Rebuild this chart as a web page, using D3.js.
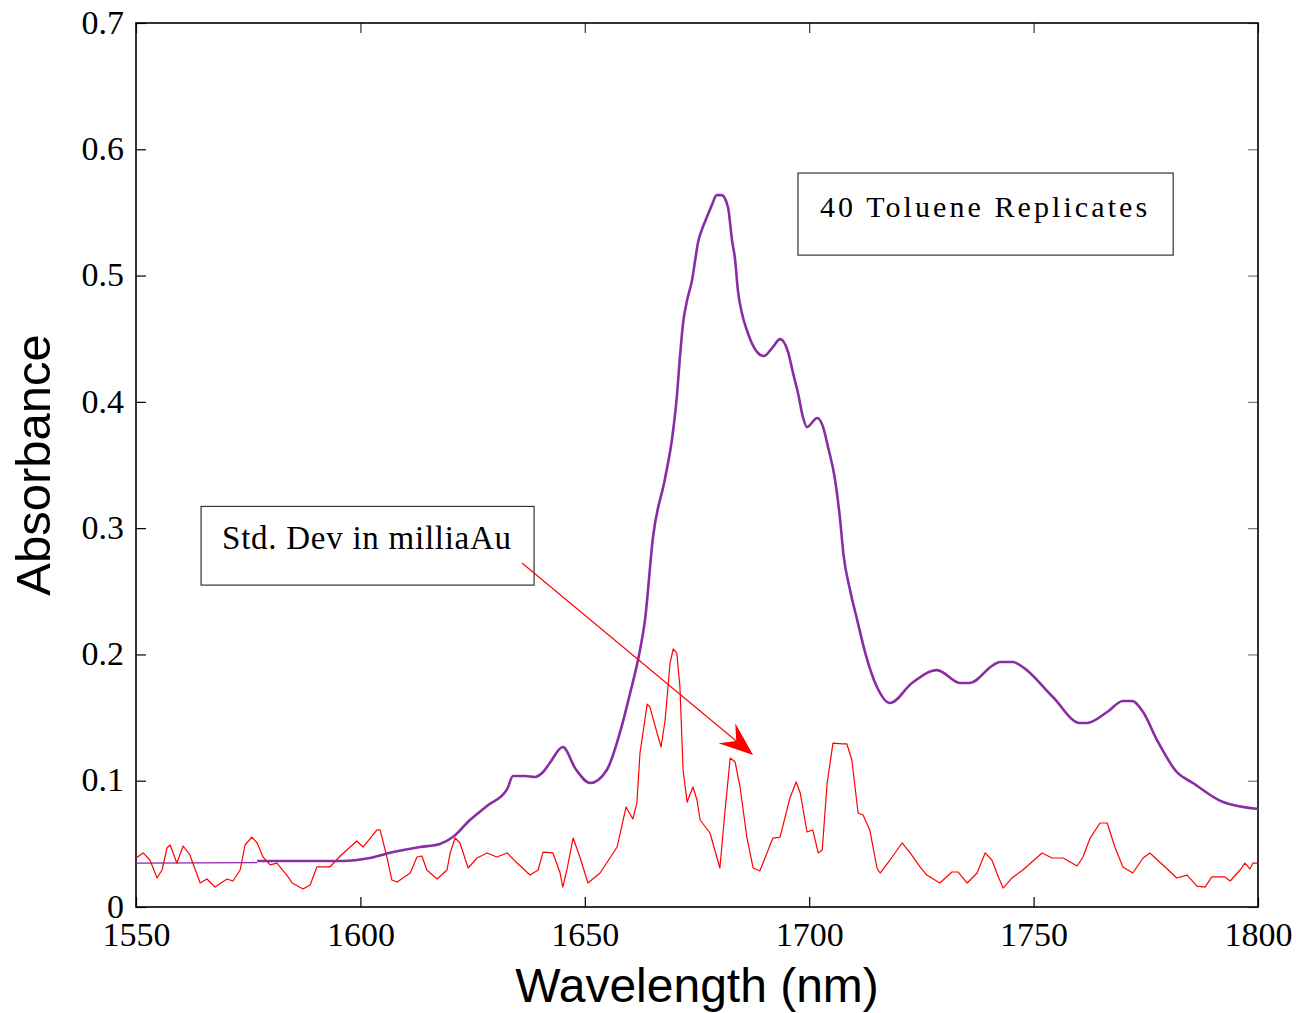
<!DOCTYPE html>
<html><head><meta charset="utf-8">
<script src="https://cdn.jsdelivr.net/npm/d3@7"></script>
<style>body{margin:0;background:#fff}svg{display:block}</style>
</head><body>
<script>
// Mean absorbance spectrum of 40 toluene replicates [wavelength nm, absorbance]
const baseWavelengths = [1550.0, 1577.0];
const baseValues = [0.0348, 0.0352];
const specWavelengths = [1577.0,1596.1,1602.1,1607.3,1613.3,1617.7,1620.6,1624.4,1628.2,1632.7,1634.0,1636.7,1638.9,1640.7,1642.2,1645.1,1648.0,1651.2,1654.9,1657.8,1660.1,1662.3,1663.4,1665.2,1667.9,1669.4,1670.5,1671.2,1671.9,1672.8,1673.9,1674.6,1675.2,1676.3,1677.2,1678.3,1679.4,1680.5,1681.9,1682.8,1683.5,1684.1,1685.0,1686.1,1687.2,1688.4,1689.9,1691.9,1693.5,1695.3,1696.4,1697.5,1698.6,1699.5,1701.8,1703.1,1704.2,1705.7,1706.9,1707.6,1709.1,1710.7,1712.5,1715.1,1718.0,1722.9,1728.5,1733.6,1735.8,1741.0,1742.5,1745.4,1747.6,1754.3,1760.3,1761.9,1766.4,1769.9,1771.9,1774.4,1777.5,1781.9,1785.5,1792.2,1800.0];
const specValues = [0.0364,0.0364,0.0388,0.0435,0.0475,0.0499,0.0554,0.0689,0.0800,0.0934,0.1037,0.1037,0.1029,0.1069,0.1140,0.1267,0.1090,0.0982,0.1085,0.1378,0.1694,0.2035,0.2270,0.2930,0.3397,0.3698,0.4038,0.4355,0.4624,0.4806,0.4964,0.5123,0.5257,0.5384,0.5463,0.5558,0.5637,0.5637,0.5542,0.5281,0.5123,0.4886,0.4703,0.4569,0.4466,0.4394,0.4363,0.4434,0.4497,0.4394,0.4228,0.4070,0.3880,0.3800,0.3872,0.3800,0.3642,0.3397,0.3064,0.2803,0.2510,0.2272,0.2011,0.1742,0.1615,0.1774,0.1876,0.1774,0.1774,0.1916,0.1940,0.1940,0.1900,0.1663,0.1457,0.1457,0.1544,0.1631,0.1631,0.1544,0.1322,0.1069,0.0982,0.0831,0.0776];
// Standard deviation (milliAu) trace
const sdWavelengths = [1550.0,1551.6,1553.1,1554.7,1555.8,1556.9,1557.6,1559.1,1560.5,1562.0,1564.3,1565.8,1567.6,1570.3,1571.6,1573.2,1574.3,1575.8,1577.0,1578.3,1579.9,1581.4,1583.6,1584.8,1587.2,1588.8,1590.3,1593.2,1595.5,1599.2,1600.6,1603.7,1604.4,1605.9,1607.0,1608.2,1611.1,1612.6,1613.7,1614.8,1617.1,1619.3,1620.0,1621.1,1622.2,1624.0,1626.0,1628.2,1630.4,1632.7,1634.9,1637.8,1639.6,1640.7,1642.9,1644.5,1645.1,1646.0,1647.4,1648.9,1650.7,1653.4,1657.2,1659.2,1660.7,1661.6,1662.3,1663.9,1664.5,1666.1,1667.0,1667.9,1669.0,1669.7,1670.5,1671.2,1671.9,1672.8,1674.1,1675.0,1675.7,1677.9,1680.1,1681.2,1682.4,1683.5,1684.6,1686.1,1687.5,1689.0,1691.9,1693.5,1695.7,1697.1,1698.0,1699.5,1700.8,1702.0,1702.9,1704.0,1705.3,1707.5,1708.4,1709.5,1710.9,1712.0,1713.5,1715.1,1715.8,1718.0,1720.7,1722.5,1724.7,1726.2,1729.1,1731.8,1733.2,1735.2,1737.4,1739.2,1740.7,1741.8,1743.2,1745.2,1747.6,1751.9,1754.1,1756.6,1759.7,1761.0,1762.6,1764.8,1766.4,1768.1,1769.9,1772.1,1774.4,1775.9,1779.3,1781.9,1784.2,1786.4,1788.2,1789.7,1792.6,1793.8,1796.0,1797.1,1798.2,1798.9,1800.0];
const sdValues = [0.0388,0.0428,0.0372,0.0230,0.0293,0.0467,0.0491,0.0348,0.0483,0.0412,0.0190,0.0222,0.0158,0.0222,0.0206,0.0293,0.0491,0.0554,0.0507,0.0396,0.0333,0.0348,0.0253,0.0190,0.0143,0.0174,0.0317,0.0317,0.0404,0.0523,0.0475,0.0610,0.0610,0.0396,0.0214,0.0198,0.0269,0.0396,0.0404,0.0293,0.0222,0.0293,0.0428,0.0546,0.0507,0.0309,0.0388,0.0428,0.0396,0.0428,0.0348,0.0253,0.0293,0.0435,0.0428,0.0269,0.0158,0.0293,0.0546,0.0396,0.0190,0.0269,0.0475,0.0792,0.0697,0.0823,0.1219,0.1607,0.1584,0.1378,0.1267,0.1481,0.1932,0.2043,0.2011,0.1742,0.1085,0.0831,0.0950,0.0847,0.0689,0.0586,0.0309,0.0744,0.1180,0.1148,0.0950,0.0554,0.0309,0.0285,0.0546,0.0554,0.0863,0.0990,0.0903,0.0594,0.0610,0.0428,0.0451,0.0982,0.1298,0.1291,0.1291,0.1164,0.0744,0.0728,0.0610,0.0309,0.0269,0.0372,0.0507,0.0428,0.0317,0.0253,0.0190,0.0277,0.0277,0.0190,0.0269,0.0428,0.0372,0.0269,0.0150,0.0230,0.0293,0.0428,0.0388,0.0388,0.0325,0.0396,0.0546,0.0665,0.0665,0.0475,0.0317,0.0269,0.0388,0.0428,0.0317,0.0230,0.0253,0.0166,0.0158,0.0238,0.0238,0.0206,0.0293,0.0348,0.0301,0.0348,0.0348];

const xTicks = [1550, 1600, 1650, 1700, 1750, 1800];
const yTicks = [0, 0.1, 0.2, 0.3, 0.4, 0.5, 0.6, 0.7];
const xTickLabels = ["1550", "1600", "1650", "1700", "1750", "1800"];
const yTickLabels = ["0", "0.1", "0.2", "0.3", "0.4", "0.5", "0.6", "0.7"];
const xLabel = "Wavelength (nm)";
const yLabel = "Absorbance";
const annotationTexts = ["40 Toluene Replicates", "Std. Dev in milliaAu"];
// annotation boxes in data units: [x0, yTop, x1, yBottom]
const annotationBoxes = [[1697.5, 0.5812, 1781.1, 0.5162], [1564.5, 0.3172, 1638.7, 0.2549]];
const arrowFrom = [1636.0, 0.2724];
const arrowTo = [1687.5, 0.1203];

const W = 1296, H = 1013;
const m = {left: 136, right: 38, top: 23, bottom: 106};
const svg = d3.select("body").append("svg").attr("width", W).attr("height", H);
const x = d3.scaleLinear().domain([1550, 1800]).range([m.left, W - m.right]);
const y = d3.scaleLinear().domain([0, 0.7]).range([H - m.bottom, m.top]);

const serif = "'Liberation Serif','Times New Roman',serif";
const sans = "'Liberation Sans',Arial,sans-serif";

// axes with inward ticks
const gB = svg.append("g").attr("transform", `translate(0,${y(0)})`)
  .call(d3.axisBottom(x).tickValues(xTicks).tickFormat((d, i) => xTickLabels[i]).tickSizeInner(-10).tickSizeOuter(0).tickPadding(15));
const gL = svg.append("g").attr("transform", `translate(${x(1550)},0)`)
  .call(d3.axisLeft(y).tickValues(yTicks).tickFormat((d, i) => yTickLabels[i]).tickSizeInner(-10).tickSizeOuter(0).tickPadding(12));
const gT = svg.append("g").attr("transform", `translate(0,${y(0.7)})`)
  .call(d3.axisTop(x).tickValues(xTicks).tickFormat("").tickSizeInner(-10).tickSizeOuter(0));
const gR = svg.append("g").attr("transform", `translate(${x(1800)},0)`)
  .call(d3.axisRight(y).tickValues(yTicks).tickFormat("").tickSizeInner(-10).tickSizeOuter(0));
[gB, gL, gT, gR].forEach(g => {
  g.select(".domain").remove();
  g.selectAll(".tick line").attr("stroke", "#000").attr("stroke-width", 1.2);
  g.selectAll("text").attr("font-family", serif).attr("font-size", 34).attr("fill", "#000");
});
gR.selectAll(".tick line").attr("stroke", "#777");
gT.selectAll(".tick line").attr("stroke", "#333");
gB.selectAll("text").attr("dy", "0.71em");
gL.selectAll("text").attr("dy", "0.3em");
svg.append("rect").attr("x", x(1550)).attr("y", y(0.7))
  .attr("width", x(1800) - x(1550)).attr("height", y(0) - y(0.7))
  .attr("fill", "none").attr("stroke", "#000").attr("stroke-width", 1.6);

// axis titles
svg.append("text").attr("x", (x(1550) + x(1800)) / 2).attr("y", 1002)
  .attr("text-anchor", "middle").attr("font-family", sans).attr("font-size", 48).text(xLabel);
svg.append("text").attr("transform", `translate(50,${(y(0) + y(0.7)) / 2}) rotate(-90)`)
  .attr("text-anchor", "middle").attr("font-family", sans).attr("font-size", 49).text(yLabel);

// lines
const line = d3.line().x(d => x(d[0])).y(d => y(d[1]));
const smooth = d3.line().x(d => x(d[0])).y(d => y(d[1])).curve(d3.curveMonotoneX);
const sd = sdWavelengths.map((w, i) => [w, sdValues[i]]);
const base = baseWavelengths.map((w, i) => [w, baseValues[i]]);
const spec = specWavelengths.map((w, i) => [w, specValues[i]]);
svg.append("path").datum(base).attr("d", line).attr("fill", "none")
  .attr("stroke", "#8e22a8").attr("stroke-width", 1.3);
svg.append("path").datum(sd).attr("d", line).attr("fill", "none")
  .attr("stroke", "#ff0000").attr("stroke-width", 1.2).attr("stroke-linejoin", "round");
svg.append("path").datum(spec).attr("d", smooth).attr("fill", "none")
  .attr("stroke", "#8a2ca6").attr("stroke-width", 2.6).attr("stroke-linejoin", "round");

// annotation boxes
const textStyle = [
  {size: 30, dx: 22, base: 44, pad: 48},
  {size: 33, dx: 21, base: 43, pad: 44}
];
annotationBoxes.forEach((b, i) => {
  const bx = x(b[0]), by = y(b[1]), bw = x(b[2]) - x(b[0]), bh = y(b[3]) - y(b[1]);
  const s = textStyle[i];
  svg.append("rect").attr("x", bx).attr("y", by).attr("width", bw).attr("height", bh)
    .attr("fill", "#fff").attr("stroke", "#333").attr("stroke-width", 1.2);
  svg.append("text").attr("x", bx + s.dx).attr("y", by + s.base)
    .attr("font-family", serif).attr("font-size", s.size)
    .attr("textLength", bw - s.pad).attr("lengthAdjust", "spacing").text(annotationTexts[i]);
});

// arrow
const ax0 = x(arrowFrom[0]), ay0 = y(arrowFrom[1]), ax1 = x(arrowTo[0]), ay1 = y(arrowTo[1]);
const dx = ax1 - ax0, dy = ay1 - ay0, len = Math.hypot(dx, dy), ux = dx / len, uy = dy / len;
const px = -uy, py = ux;
svg.append("line").attr("x1", ax0).attr("y1", ay0).attr("x2", ax1 - ux * 20).attr("y2", ay1 - uy * 20)
  .attr("stroke", "#ff0000").attr("stroke-width", 1.1);
const head = [
  [ax1, ay1],
  [ax1 - ux * 34 + px * 13, ay1 - uy * 34 + py * 13],
  [ax1 - ux * 22, ay1 - uy * 22],
  [ax1 - ux * 34 - px * 13, ay1 - uy * 34 - py * 13]
];
svg.append("polygon").attr("points", head.map(p => p.join(",")).join(" ")).attr("fill", "#ff0000");
</script>
</body></html>
